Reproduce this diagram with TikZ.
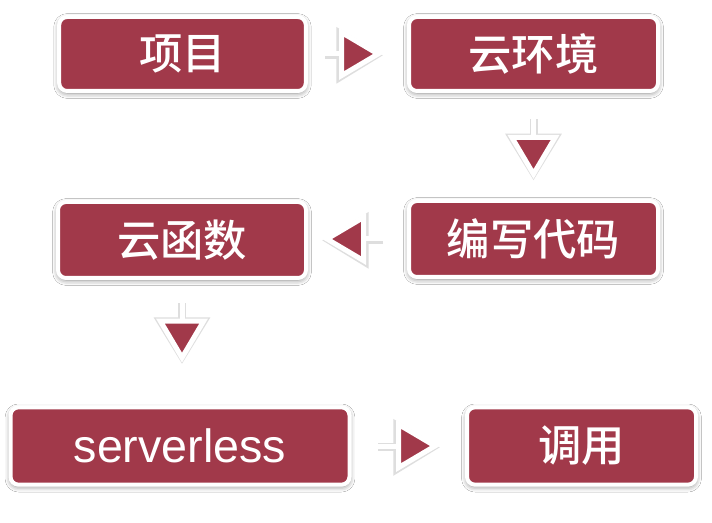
\documentclass[tikz,border=0pt]{standalone}
\usepackage{fontspec}
\setmainfont{Liberation Sans}
\newfontfamily\cjk{Noto Sans CJK SC}[UprightFont=* Medium]
\usetikzlibrary{arrows.meta,shadows.blur}
\definecolor{boxred}{RGB}{161,57,74}
\definecolor{shade}{RGB}{222,222,222}
\begin{document}
\begin{tikzpicture}[x=0.75pt,y=-0.75pt,
  box/.style={rectangle, rounded corners=6pt, fill=boxred, draw=white,
    line width=3pt, text=white, inner sep=0pt, minimum height=55.5pt,
    blur shadow={shadow xshift=0pt, shadow yshift=-1.5pt,
      shadow blur radius=4pt, shadow opacity=50}},
  zh/.style={font=\cjk\fontsize{32.5}{36}\selectfont},
  en/.style={font=\fontsize{35}{40}\selectfont},
  flow/.style={draw=white, line width=3.75pt,
    -{Triangle[length=33pt,width=38pt,fill=boxred]},
    preaction={draw=shade, line width=6pt,
      transform canvas={yshift=-1pt},
      -{Triangle[length=35pt,width=41pt,fill=shade]}}}]
\fill[white] (0,0) rectangle (712,523);
\useasboundingbox (0,0) rectangle (712,523);
\node[box,zh,minimum width=185pt] (proj) at (182.5,54) {项目};
\node[box,zh,minimum width=186.75pt] (env) at (533.5,54) {云环境};
\node[box,zh,minimum width=186.75pt,minimum height=57pt] (code) at (533.5,239) {编写代码};
\node[box,zh,minimum width=186pt,minimum height=57pt] (fn) at (182,240) {云函数};
\node[box,en,minimum width=254.25pt,minimum height=58pt] (sl) at (180,446) {serverless};
\node[box,zh,minimum width=171.75pt,minimum height=58pt] (call) at (581.5,446) {调用};
\draw[flow,shorten <=12.75pt,shorten >=18pt] (proj.east) -- (env.west);
\draw[flow,shorten <=18.75pt,shorten >=15pt] (env.south) -- (code.north);
\draw[flow,shorten <=18pt,shorten >=10.5pt] (code.west) -- (code.west -| fn.east);
\draw[flow,shorten <=16.5pt,shorten >=32pt] (fn.south) -- (fn.south |- sl.north);
\draw[flow,shorten <=20pt,shorten >=18.75pt] (sl.east) -- (call.west);
\end{tikzpicture}
\end{document}
